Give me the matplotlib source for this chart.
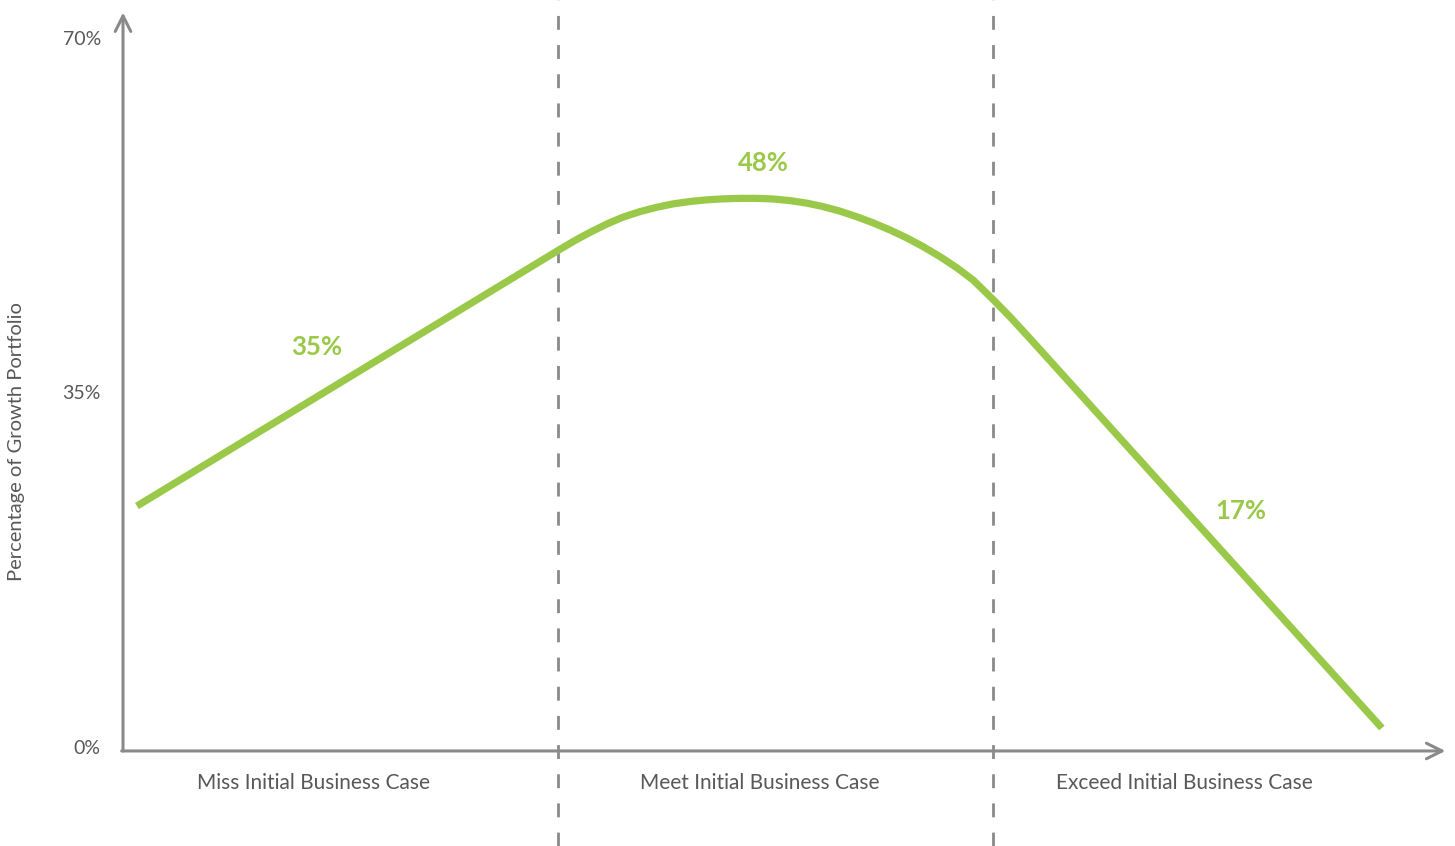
import matplotlib.pyplot as plt

plt.rcParams['font.family'] = ['Lato', 'DejaVu Sans']

# curve (x: 0-3 across the three cases, y: percent)
curve_x = [0.032, 1.000, 1.039, 1.074, 1.113, 1.149, 1.189, 1.228, 1.264, 1.303,
           1.343, 1.379, 1.418, 1.457, 1.494, 1.533, 1.572, 1.609, 1.648, 1.687,
           1.724, 1.763, 1.802, 1.839, 1.878, 1.917, 1.954, 2.000, 2.039, 2.085,
           2.894]
curve_y = [23.78, 49.03, 50.02, 50.83, 51.66, 52.32, 52.88, 53.31, 53.63, 53.87,
           54.04, 54.13, 54.18, 54.18, 54.12, 53.96, 53.71, 53.37, 52.92, 52.36,
           51.77, 51.06, 50.27, 49.42, 48.43, 47.32, 46.12, 44.19, 42.48, 40.33,
           1.85]

# callouts
label_text = ['35%', '48%', '17%']
label_x = [0.446, 1.471, 2.570]
label_y = [39.5, 57.67, 23.29]

categories = ['Miss Initial Business Case', 'Meet Initial Business Case',
              'Exceed Initial Business Case']
category_x = [0.437, 1.464, 2.441]
dividers = [1.0, 2.0]

y_ticks = [0, 35, 70]
y_tick_labels = ['0%', '35%', '70%']

green = '#9AC94A'
grey = '#8a8a8a'
text_grey = '#585858'

fig = plt.figure(figsize=(14.55, 8.46), dpi=100)
ax = fig.add_axes([0, 0, 1, 1])
ax.set_xlim(-0.2828, 3.0621)
ax.set_ylim(-9.81, 73.78)
ax.patch.set_visible(False)

# spines only carry the ticks; the axis lines are drawn as open arrows
ax.spines['left'].set_position(('data', 0))
ax.spines['bottom'].set_position(('data', -0.42))
for s in ax.spines.values():
    s.set_visible(False)
arrow = dict(arrowstyle='->', color=grey, lw=2.2, mutation_scale=28,
             shrinkA=0, shrinkB=0)
ax.annotate('', xy=(0, 72.55), xytext=(0, -0.42), arrowprops=arrow)
ax.annotate('', xy=(3.04, -0.42), xytext=(-0.003, -0.42), arrowprops=arrow)

# dashed dividers between the cases
for d in dividers:
    ax.axvline(d, color=grey, lw=2, dashes=(5, 5.5), zorder=1)

ax.plot(curve_x, curve_y, color=green, lw=5.2, solid_capstyle='butt',
        solid_joinstyle='round', zorder=3)

for t, x, y in zip(label_text, label_x, label_y):
    ax.text(x, y, t, color=green, fontsize=18.5, fontweight='bold',
            ha='center', va='center')

ax.set_yticks(y_ticks)
ax.set_yticklabels(y_tick_labels)
ax.set_xticks(category_x)
ax.set_xticklabels(categories)
ax.tick_params(axis='y', length=0, pad=16, labelsize=14, labelcolor=text_grey)
ax.tick_params(axis='x', length=0, pad=16, labelsize=15, labelcolor=text_grey)

ax.text(-0.244, 30.16, 'Percentage of Growth Portfolio', rotation=90,
        ha='center', va='center', fontsize=14.5, color=text_grey)

fig.savefig('out.png', dpi=100)
